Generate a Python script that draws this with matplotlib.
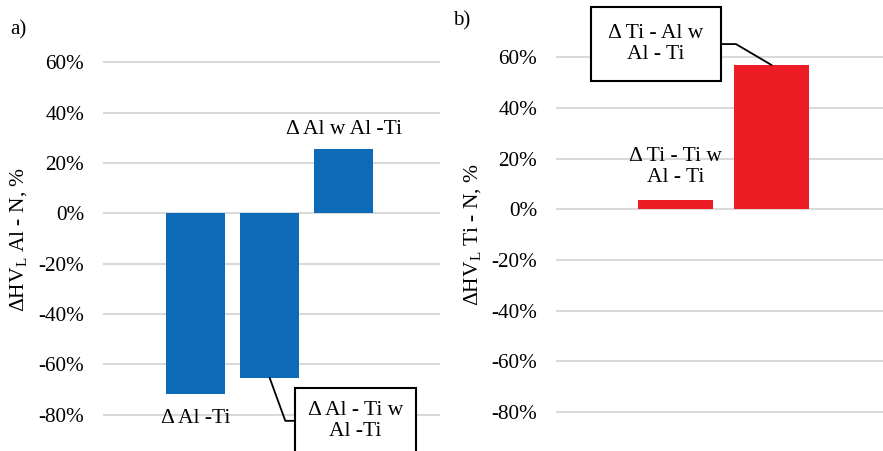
import matplotlib
matplotlib.use("Agg")
import matplotlib.pyplot as plt

plt.rcParams['font.family'] = ['Liberation Serif', 'DejaVu Serif']
plt.rcParams['mathtext.fontset'] = 'custom'
plt.rcParams['mathtext.rm'] = 'Liberation Serif'
plt.rcParams['mathtext.it'] = 'Liberation Serif:italic'

# Data
left_cats = ["Δ Al -Ti", "Δ Al - Ti w\nAl -Ti", "Δ Al w Al -Ti"]
left_vals = [-0.718, -0.654, 0.256]
right_cats = ["Δ Ti - Ti w\nAl - Ti", "Δ Ti - Al w\nAl - Ti"]
right_vals = [0.037, 0.569]
yticks = [-0.8, -0.6, -0.4, -0.2, 0.0, 0.2, 0.4, 0.6]
ytick_labels = ["-80%", "-60%", "-40%", "-20%", "0%", "20%", "40%", "60%"]

BLUE = '#0C6AB6'
RED = '#EE1D25'
GRID = '#D9D9D9'
W, H = 883, 451

fig = plt.figure(figsize=(W/100, H/100), dpi=100)

def frac(x0, y_top, x1, y_bot):
    return [x0/W, 1 - y_bot/H, (x1-x0)/W, (y_bot-y_top)/H]

axL = fig.add_axes(frac(103, 12.1, 440, 439.7))
axR = fig.add_axes(frac(556, 6.5, 883, 437.5))

for ax in (axL, axR):
    ax.set_ylim(-0.9, 0.8)
    ax.set_yticks(yticks)
    ax.set_yticklabels(ytick_labels, fontsize=15.3)
    ax.tick_params(axis='y', length=0, pad=13.5)
    ax.set_xticks([])
    for s in ax.spines.values():
        s.set_visible(False)
    ax.grid(axis='y', color=GRID, linewidth=1.5)
    ax.set_axisbelow(True)

xl = list(range(len(left_vals)))
axL.bar(xl, left_vals, width=0.8, color=BLUE)
axL.set_xlim(-1.25, 3.30)

xr = list(range(len(right_vals)))
axR.bar(xr, right_vals, width=0.78, color=RED)
axR.set_xlim(-1.245, 2.16)

fs = 15.5
# left labels
axL.annotate(left_cats[0], xy=(xl[0], left_vals[0]), xytext=(0, -25),
             textcoords='offset pixels', ha='center', va='center', fontsize=fs)
axL.annotate(left_cats[2], xy=(xl[2], left_vals[2]), xytext=(0, 19),
             textcoords='offset pixels', ha='center', va='center', fontsize=fs)
axL.annotate(left_cats[1], xy=(xl[1], left_vals[1]), xytext=(85.5, -43),
             textcoords='offset pixels', ha='center', va='center', fontsize=fs,
             linespacing=1.15, annotation_clip=False,
             bbox=dict(boxstyle='square,pad=0.6', fc='white', ec='black', lw=1.5),
             arrowprops=dict(arrowstyle='-', color='black', lw=1.3,
                             connectionstyle='angle,angleA=0,angleB=110,rad=0',
                             shrinkA=0, shrinkB=0))

# right labels
axR.annotate(right_cats[0], xy=(xr[0], right_vals[0]), xytext=(0, 33),
             textcoords='offset pixels', ha='center', va='center', fontsize=fs,
             linespacing=1.15)
axR.annotate(right_cats[1], xy=(xr[1], right_vals[1]), xytext=(-115.5, 21),
             textcoords='offset pixels', ha='center', va='center', fontsize=fs,
             linespacing=1.15, annotation_clip=False,
             bbox=dict(boxstyle='square,pad=0.8', fc='white', ec='black', lw=1.5),
             arrowprops=dict(arrowstyle='-', color='black', lw=1.3,
                             connectionstyle='angle,angleA=0,angleB=-30.5,rad=0',
                             shrinkA=0, shrinkB=0))

axL.set_ylabel("ΔHV$_\\mathrm{L}$ Al - N, %", fontsize=15.5, va='center')
axL.yaxis.set_label_coords(19/W, 1 - 239/H, transform=fig.transFigure)
axR.set_ylabel("ΔHV$_\\mathrm{L}$ Ti - N, %", fontsize=15.5, va='center')
axR.yaxis.set_label_coords(472.5/W, 1 - 235/H, transform=fig.transFigure)

fig.text(10/W, 1 - 30/H, "a)", fontsize=15, va='center', ha='left')
fig.text(453/W, 1 - 21/H, "b)", fontsize=15, va='center', ha='left')

fig.savefig("out.png", dpi=100)
